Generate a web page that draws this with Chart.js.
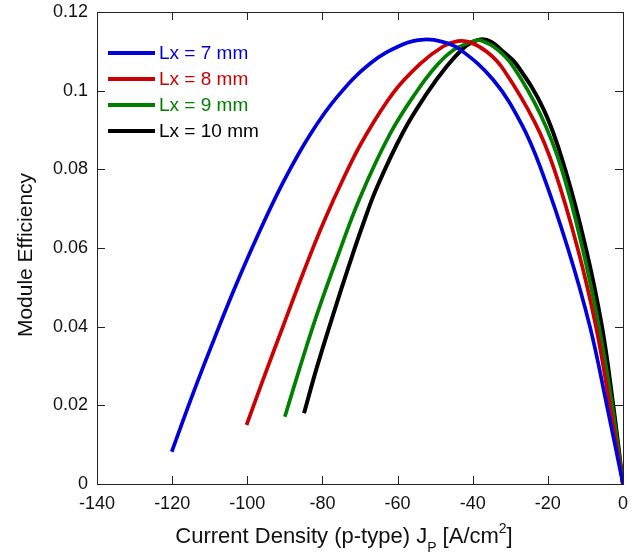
<!DOCTYPE html>
<html>
<head>
<meta charset="utf-8">
<script src="https://cdn.jsdelivr.net/npm/chart.js@4/dist/chart.umd.min.js"></script>
<style>
  html, body { margin: 0; padding: 0; background: #fff; }
  #wrap { width: 644px; height: 555px; position: relative; }
</style>
</head>
<body>
<div id="wrap"><canvas id="effChart" width="644" height="555"></canvas></div>
<script>
// Series data
const seriesLabels = ['Lx = 7 mm', 'Lx = 8 mm', 'Lx = 9 mm', 'Lx = 10 mm'];
const seriesColors = ['#0000dd', '#cc0000', '#008000', '#000000'];

const lx7Current = [-120.1, -114.4, -109, -103.7, -97.5, -90.4, -83.3, -76.2, -67.3, -58.5, -53, -48, -43.4, -34.5, -27, -21.8, -14.7, -8.8, -4.3, 0];
const lx7Eff     = [0.0082, 0.0231, 0.0364, 0.0490, 0.0626, 0.0768, 0.0888, 0.0983, 0.1069, 0.1118, 0.1130, 0.1124, 0.1105, 0.1027, 0.0915, 0.080, 0.060, 0.040, 0.020, 0];

const lx8Current = [-100.2, -95.7, -90.4, -85.1, -79.8, -74, -69.1, -61.1, -54, -47.8, -44, -40.7, -36, -31.9, -23.5, -18.3, -12.1, -7.2, -3.5, 0];
const lx8Eff     = [0.015, 0.0268, 0.0403, 0.0537, 0.0663, 0.0785, 0.0876, 0.0995, 0.1068, 0.1113, 0.1126, 0.1123, 0.1097, 0.1055, 0.092, 0.080, 0.060, 0.040, 0.020, 0];

const lx9Current = [-90, -86, -81.5, -76.2, -70, -62, -54.9, -49.6, -45, -40, -38, -33.5, -29.2, -22, -16.3, -10.8, -6.4, -2.9, 0];
const lx9Eff     = [0.0171, 0.0296, 0.0430, 0.0572, 0.0728, 0.0890, 0.0998, 0.1064, 0.1104, 0.1125, 0.1128, 0.1105, 0.1061, 0.094, 0.080, 0.060, 0.040, 0.020, 0];

const lx10Current = [-84.9, -81.5, -77.1, -72.7, -69.5, -65.6, -58.5, -52.2, -46.9, -42.5, -40, -37.5, -35, -32, -28.3, -21, -15.4, -9.9, -5.6, -2.6, 0];
const lx10Eff     = [0.018, 0.0296, 0.0432, 0.0562, 0.0652, 0.0752, 0.0895, 0.0993, 0.1062, 0.1108, 0.1124, 0.1131, 0.1124, 0.1100, 0.1066, 0.095, 0.080, 0.060, 0.040, 0.020, 0];

const xMin = -140, xMax = 0, xStep = 20;
const yMin = 0, yMax = 0.12, yStep = 0.02;

const FONT = '"Liberation Sans", Arial, Helvetica, sans-serif';

function toPoints(xs, ys) {
    return xs.map((x, i) => ({ x: x, y: ys[i] }));
}

const allCurrent = [lx7Current, lx8Current, lx9Current, lx10Current];
const allEff = [lx7Eff, lx8Eff, lx9Eff, lx10Eff];

// Box frame with inward ticks on every side, drawn under the curves
const framePlugin = {
    id: 'frame',
    beforeDatasetsDraw(chart) {
        const { ctx, chartArea: a, scales } = chart;
        ctx.save();
        ctx.strokeStyle = '#222';
        ctx.lineWidth = 1;
        ctx.beginPath();
        const tick = 8;
        scales.x.ticks.forEach(t => {
            const px = Math.round(scales.x.getPixelForValue(t.value)) + 0.5;
            ctx.moveTo(px, a.bottom); ctx.lineTo(px, a.bottom - tick);
            ctx.moveTo(px, a.top); ctx.lineTo(px, a.top + tick);
        });
        scales.y.ticks.forEach(t => {
            const py = Math.round(scales.y.getPixelForValue(t.value)) + 0.5;
            ctx.moveTo(a.left, py); ctx.lineTo(a.left + tick, py);
            ctx.moveTo(a.right, py); ctx.lineTo(a.right - tick, py);
        });
        ctx.stroke();
        ctx.strokeRect(Math.round(a.left) + 0.5, Math.round(a.top) + 0.5,
            Math.round(a.right - a.left), Math.round(a.bottom - a.top));
        ctx.restore();
    },
    afterDraw(chart) {
        const { ctx, chartArea: a } = chart;
        ctx.save();
        // legend inside the plot, coloured text
        ctx.font = '19px ' + FONT;
        ctx.textBaseline = 'middle';
        ctx.textAlign = 'left';
        chart.data.datasets.forEach((ds, i) => {
            const y = 53 + i * 26;
            ctx.strokeStyle = ds.borderColor;
            ctx.lineWidth = 4;
            ctx.beginPath();
            ctx.moveTo(108, y); ctx.lineTo(155, y);
            ctx.stroke();
            ctx.fillStyle = ds.borderColor;
            ctx.fillText(ds.label, 159, y + 1);
        });

        // y axis title
        ctx.fillStyle = '#111';
        ctx.font = '21px ' + FONT;
        ctx.textBaseline = 'alphabetic';
        ctx.textAlign = 'center';
        ctx.translate(32, (a.top + a.bottom) / 2 + 7);
        ctx.rotate(-Math.PI / 2);
        ctx.fillText('Module Efficiency', 0, 0);
        ctx.restore();

        // x axis title with sub- and superscript
        ctx.save();
        ctx.fillStyle = '#111';
        ctx.textBaseline = 'alphabetic';
        ctx.textAlign = 'left';
        const big = '22px ' + FONT, small = '14px ' + FONT;
        const parts = [
            { t: 'Current Density (p-type) J', f: big, dy: 0 },
            { t: 'P', f: small, dy: 9 },
            { t: ' [A/cm', f: big, dy: 0 },
            { t: '2', f: small, dy: -10 },
            { t: ']', f: big, dy: 0 }
        ];
        let total = 0;
        parts.forEach(p => { ctx.font = p.f; total += ctx.measureText(p.t).width; });
        let x = 344 - total / 2;
        const base = 543;
        parts.forEach(p => {
            ctx.font = p.f;
            ctx.fillText(p.t, x, base + p.dy);
            x += ctx.measureText(p.t).width;
        });
        ctx.restore();
    }
};

const ctx = document.getElementById('effChart').getContext('2d');
const effChart = new Chart(ctx, {
    type: 'line',
    data: {
        datasets: seriesLabels.map((label, i) => ({
            label: label,
            data: toPoints(allCurrent[i], allEff[i]),
            borderColor: seriesColors[i],
            backgroundColor: seriesColors[i],
            borderWidth: i === 3 ? 4 : 3.7,
            pointRadius: 0,
            tension: 0.4,
            fill: false
        }))
    },
    options: {
        responsive: false,
        animation: false,
        layout: { padding: { top: 12, right: 21, left: 0, bottom: 0 } },
        plugins: {
            legend: { display: false },
            tooltip: { enabled: false }
        },
        scales: {
            x: {
                type: 'linear',
                min: xMin,
                max: xMax,
                grid: { display: false, drawTicks: false },
                border: { display: false },
                ticks: {
                    stepSize: xStep,
                    color: '#111',
                    padding: 9,
                    maxRotation: 0,
                    font: { family: FONT, size: 18 }
                },
                afterFit(scale) {
                    scale.height = 71;
                    scale.paddingLeft = 0;
                    scale.paddingRight = 0;
                }
            },
            y: {
                type: 'linear',
                min: yMin,
                max: yMax,
                grid: { display: false, drawTicks: false },
                border: { display: false },
                ticks: {
                    stepSize: yStep,
                    color: '#111',
                    padding: 9,
                    font: { family: FONT, size: 18 },
                    callback: v => Number(v.toFixed(2)).toString()
                },
                afterFit(scale) {
                    scale.width = 97;
                    scale.paddingTop = 0;
                    scale.paddingBottom = 0;
                }
            }
        }
    },
    plugins: [framePlugin]
});
</script>
</body>
</html>
